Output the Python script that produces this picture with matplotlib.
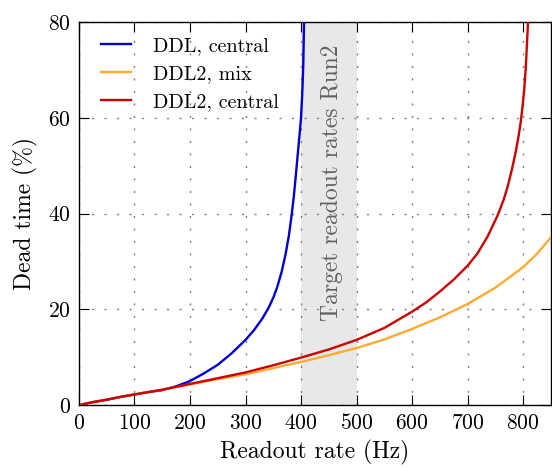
import matplotlib
matplotlib.use("Agg")
import matplotlib.pyplot as plt

# Dead time vs readout rate for the DDL configurations
ddl_central_rate = [5, 25, 50, 75, 100, 125, 150, 175, 200, 225, 250, 275, 300, 315, 330, 342,
                    350, 357, 365, 372, 378, 383, 387, 390, 393, 396, 398, 400, 402, 404, 405.5]
ddl_central_dead = [0.1, 0.6, 1.1, 1.7, 2.2, 2.7, 3.1, 3.9, 5.0, 6.6, 8.4, 10.8, 13.6, 15.6, 18.0, 20.4,
                    22.4, 24.6, 27.8, 31.4, 35.3, 39.6, 43.6, 47.2, 51.0, 54.8, 57.3, 60.1, 64.5, 71.0, 80.5]

ddl2_mix_rate = [5, 25, 50, 75, 100, 150, 200, 250, 300, 350, 400, 450, 500, 550, 600, 650,
                 700, 750, 800, 825, 850]
ddl2_mix_dead = [0.1, 0.6, 1.1, 1.7, 2.2, 3.2, 4.3, 5.4, 6.4, 7.7, 9.0, 10.4, 11.9, 13.7, 15.9, 18.3,
                 21.1, 24.5, 28.8, 31.6, 35.0]

ddl2_central_rate = [5, 25, 50, 75, 100, 150, 200, 250, 300, 350, 400, 450, 500, 550, 600, 625,
                     650, 675, 700, 718, 736, 754, 765, 772, 780, 787, 792, 796, 799, 802, 805, 808, 810]
ddl2_central_dead = [0.1, 0.6, 1.1, 1.7, 2.2, 3.2, 4.4, 5.6, 6.8, 8.3, 9.9, 11.6, 13.6, 16.1, 19.5, 21.4,
                     23.7, 26.2, 29.1, 31.7, 35.2, 39.6, 42.9, 45.6, 49.3, 53.1, 56.3, 59.4, 62.4, 66.0, 71.0, 78.0, 84.0]

target_band = (400, 500)
x_ticks = [0, 100, 200, 300, 400, 500, 600, 700, 800]
y_ticks = [0, 20, 40, 60, 80]

plt.rcParams.update({
    "font.family": ["cmr10", "DejaVu Serif"],
    "mathtext.fontset": "cm",
    "axes.formatter.use_mathtext": True,
    "font.size": 15.5,
    "axes.linewidth": 1.0,
    "xtick.direction": "in",
    "ytick.direction": "in",
    "xtick.top": True,
    "ytick.right": True,
    "xtick.major.size": 7,
    "ytick.major.size": 7,
    "xtick.major.pad": 6,
    "ytick.major.pad": 6,
    "lines.solid_joinstyle": "round",
})

fig = plt.figure(figsize=(5.52, 4.68), dpi=100)
ax = fig.add_axes([0.143, 0.1346, 0.855, 0.8184])

ax.axvspan(*target_band, color="#e8e8e8", lw=0, zorder=1)
ax.text(455, 46.5, "Target readout rates Run2", rotation=90, ha="center", va="center",
        color="#606060", fontsize=17, zorder=1.2)

ax.plot(ddl_central_rate, ddl_central_dead, color="#0000d0", lw=1.7, label="DDL, central", zorder=3)
ax.plot(ddl2_mix_rate, ddl2_mix_dead, color="#ffaa33", lw=1.7, label="DDL2, mix", zorder=3)
ax.plot(ddl2_central_rate, ddl2_central_dead, color="#cc0000", lw=1.7, label="DDL2, central", zorder=4)

ax.set_xlim(0, 850)
ax.set_ylim(0, 80)
ax.set_xticks(x_ticks)
ax.set_yticks(y_ticks)
ax.grid(True, linestyle=(0, (1.5, 7.5)), color="#808080", lw=1.0)

ax.set_xlabel("Readout rate (Hz)", fontsize=17, labelpad=5)
ax.set_ylabel("Dead time (%)", fontsize=17, labelpad=7)

ax.legend(loc="upper left", bbox_to_anchor=(0.015, 1.0), frameon=False, fontsize=14.5,
          handlelength=1.5, handletextpad=1.1, labelspacing=0.5, borderaxespad=0.35)

fig.savefig("out.png", dpi=100)
